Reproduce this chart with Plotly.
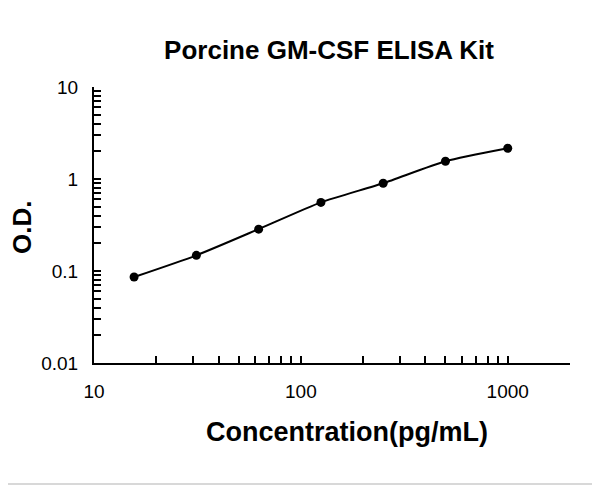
import numpy as np
import plotly.graph_objects as go

# Standard curve points
conc = [15.625, 31.25, 62.5, 125, 250, 500, 1000]   # pg/mL
od = [0.086, 0.148, 0.285, 0.557, 0.90, 1.56, 2.16]

title_text = "Porcine GM-CSF ELISA Kit"
x_title = "Concentration(pg/mL)"
y_title = "O.D."

x_major = [10, 100, 1000]
y_major = [0.01, 0.1, 1, 10]

# tick positions every digit in each decade (Excel style minor ticks)
x_ticks = [d * 10 ** k for k in range(1, 4) for d in range(1, 10) if d * 10 ** k <= 2000]
x_ticks.append(2000)
y_ticks = [d * 10.0 ** k for k in range(-2, 1) for d in range(1, 10)] + [10]

def label(v, majors):
    for m in majors:
        if abs(v - m) < 1e-9:
            return f"{m:g}"
    return ""

# page body has an 8px margin, so everything is placed 8px up/left
W, H = 600, 486
L, R, T, B = 86, 38, 79, 131
pw, ph = W - L - R, H - T - B

fig = go.Figure()
fig.add_trace(go.Scatter(
    x=conc, y=od, mode="lines+markers",
    line=dict(color="black", width=2, shape="spline", smoothing=0.6),
    marker=dict(color="black", size=9),
    showlegend=False,
))

axis_font = dict(family="Liberation Sans, Arial, sans-serif", size=19, color="black")

fig.update_xaxes(
    type="log", range=[1, np.log10(2000)],
    tickvals=x_ticks, ticktext=[label(v, x_major) for v in x_ticks],
    ticks="inside", ticklen=7, tickwidth=1.5, tickcolor="black",
    showline=True, linecolor="black", linewidth=2,
    showgrid=False, zeroline=False, tickfont=axis_font, ticklabelstandoff=10,
)
fig.update_yaxes(
    type="log", range=[-2, 1],
    tickvals=y_ticks, ticktext=[label(v, y_major) for v in y_ticks],
    ticks="inside", ticklen=7, tickwidth=1.5, tickcolor="black",
    showline=True, linecolor="black", linewidth=2,
    showgrid=False, zeroline=False, tickfont=axis_font, ticklabelstandoff=10,
)

def bold(size):
    return dict(family="Liberation Sans, Arial, sans-serif", size=size, color="black")

fig.add_annotation(text="<b>" + x_title + "</b>", xref="paper", yref="paper",
                   x=(339 - L) / pw, y=-(424 - (H - B)) / ph, showarrow=False,
                   font=bold(27), xanchor="center", yanchor="middle")
fig.add_annotation(text="<b>" + y_title + "</b>", xref="paper", yref="paper",
                   x=-(L - 14) / pw, y=((H - B) - 220) / ph, showarrow=False,
                   font=bold(26), textangle=-90, xanchor="center", yanchor="middle")

# faint grey edge of the picture (right and bottom sides)
edge = dict(color="#d8d8d8", width=2)
fig.add_shape(type="line", xref="paper", yref="paper",
              x0=1 + (588 - (W - R)) / pw, x1=1 + (588 - (W - R)) / pw,
              y0=-(476 - (H - B)) / ph, y1=1 + T / ph, line=edge)
fig.add_shape(type="line", xref="paper", yref="paper",
              x0=-L / pw, x1=1 + (588 - (W - R)) / pw,
              y0=-(476 - (H - B)) / ph, y1=-(476 - (H - B)) / ph, line=edge)

fig.update_layout(
    width=W, height=H,
    margin=dict(l=L, r=R, t=T, b=B),
    paper_bgcolor="white", plot_bgcolor="white",
    title=dict(text="<b>" + title_text + "</b>", x=321 / W, y=1 - 42 / H,
               xanchor="center", yanchor="middle", font=bold(26)),
)

fig.write_html("out.html")
